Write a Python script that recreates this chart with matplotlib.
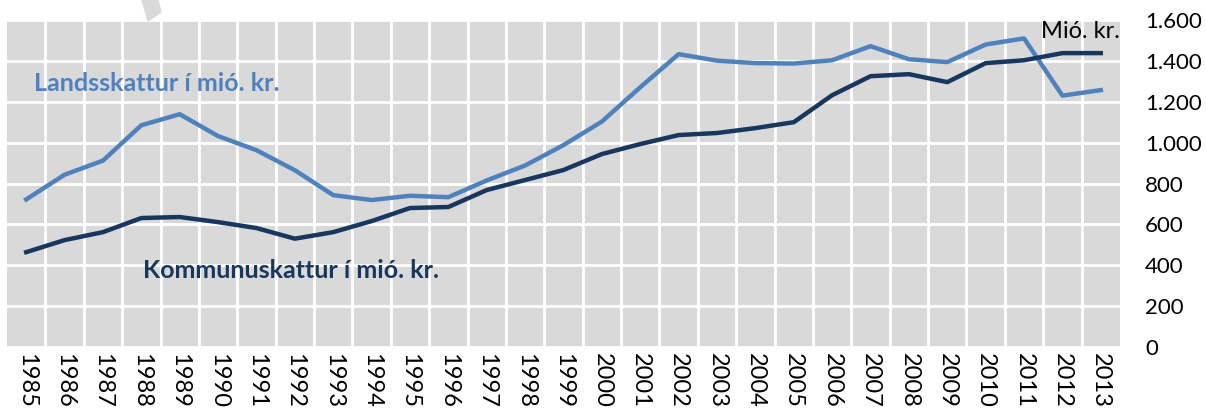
import numpy as np
import matplotlib.pyplot as plt
from matplotlib.ticker import FuncFormatter
from matplotlib.patches import Polygon

# Data
YEARS = list(range(1985, 2014))
LANDSSKATTUR = [722, 843, 912, 1085, 1139, 1032, 963, 865, 743, 719, 740, 733,
                815, 888, 988, 1103, 1271, 1433, 1401, 1389, 1387, 1403, 1472,
                1408, 1394, 1480, 1510, 1230, 1257]
KOMMUNUSKATTUR = [464, 523, 562, 631, 636, 611, 582, 530, 562, 616, 680, 685,
                  768, 817, 866, 944, 993, 1037, 1047, 1071, 1100, 1232, 1325,
                  1335, 1296, 1389, 1403, 1438, 1438]
Y_TICKS = [0, 200, 400, 600, 800, 1000, 1200, 1400, 1600]

LIGHT_BLUE = "#4F81BD"
DARK_BLUE = "#17375E"
BG_GREY = "#D9D9D9"

plt.rcParams['font.family'] = ['Lato', 'DejaVu Sans']

fig = plt.figure(figsize=(12.06, 4.12), dpi=100)
ax = fig.add_axes([7/1206, 65/412, 1113/1206, 327/412])
ax.set_facecolor(BG_GREY)

x = np.arange(len(YEARS))
ax.plot(x, LANDSSKATTUR, color=LIGHT_BLUE, linewidth=3.2, solid_joinstyle='round')
ax.plot(x, KOMMUNUSKATTUR, color=DARK_BLUE, linewidth=3.2, solid_joinstyle='round')

ax.set_xlim(-0.5, len(YEARS) - 0.5)
ax.set_ylim(0, 1600)

# Axes ticks
ax.set_xticks(x)
ax.set_xticklabels([str(y) for y in YEARS], rotation=-90, fontsize=17)
ax.set_xticks(x[:-1] + 0.5, minor=True)
ax.set_yticks(Y_TICKS)
ax.yaxis.set_major_formatter(FuncFormatter(lambda v, p: f"{int(v):,}".replace(",", ".")))
ax.yaxis.tick_right()
ax.tick_params(axis='y', length=0, pad=18, labelsize=16)
ax.tick_params(axis='x', which='both', length=0, pad=4)
for lab in ax.get_xticklabels():
    lab.set_va('top')

# White grid
ax.grid(True, which='minor', axis='x', color='white', linewidth=2)
ax.grid(True, which='major', axis='y', color='white', linewidth=2)
ax.set_axisbelow(True)
for s in ax.spines.values():
    s.set_visible(False)

# Labels
ax.text(0.2, 1290, "Landsskattur í mió. kr.", color=LIGHT_BLUE, fontsize=18,
        fontweight='bold', va='center', ha='left')
ax.text(3.05, 375, "Kommunuskattur í mió. kr.", color=DARK_BLUE, fontsize=18,
        fontweight='bold', va='center', ha='left')
ax.text(28.5, 1545, "Mió. kr.", color='black', fontsize=17, va='center', ha='right')

# Grey wedge fragment at top
W, H = 1206, 412
pts = [(142, 0), (158, 0), (161, 12), (148, 21)]
fig.patches.append(Polygon([(px / W, 1 - py / H) for px, py in pts], closed=True,
                           transform=fig.transFigure, color=BG_GREY, zorder=0))

fig.savefig("out.png", dpi=100)
